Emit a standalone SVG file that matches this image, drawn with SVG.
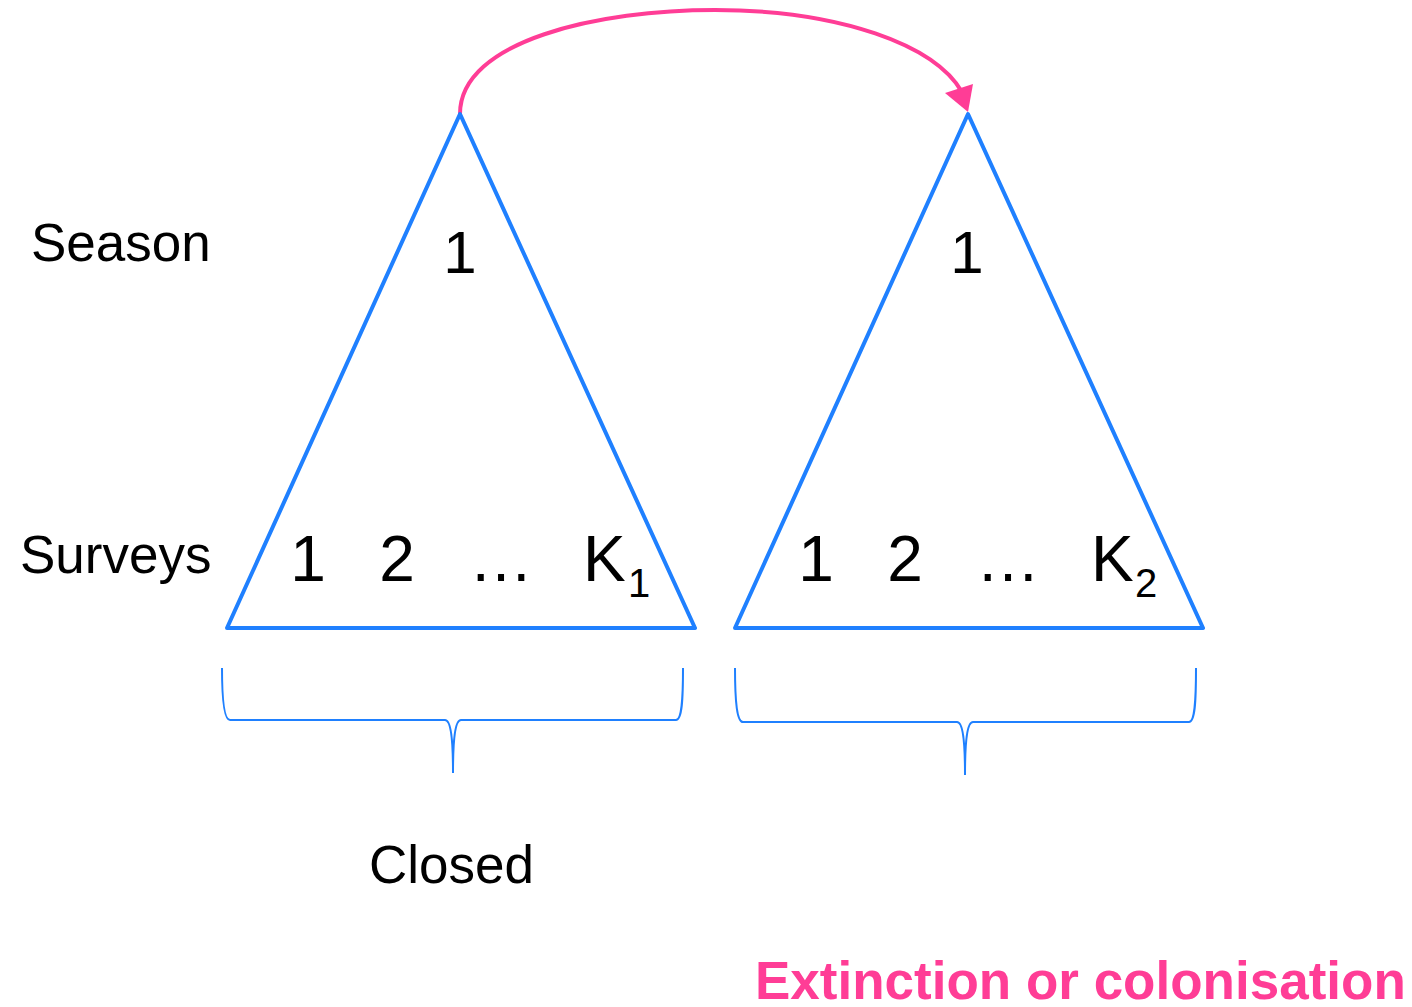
<svg xmlns="http://www.w3.org/2000/svg" width="1412" height="1007" viewBox="0 0 1412 1007">
<defs>
<style>
.tri{fill:none;stroke:#1f80ff;stroke-width:4;stroke-linejoin:round}
.brace{fill:none;stroke:#1f80ff;stroke-width:2}
.t{font-family:"Liberation Sans",Arial,sans-serif;font-size:53px;fill:#000}
.n{font-family:"Liberation Sans",Arial,sans-serif;font-size:64px;fill:#000}
.top{font-family:"Liberation Sans",Arial,sans-serif;font-size:60px;fill:#000}
.sub{font-family:"Liberation Sans",Arial,sans-serif;font-size:40px;fill:#000}
.pink{font-family:"Liberation Sans",Arial,sans-serif;font-size:53px;font-weight:bold;fill:#ff3d96}
</style>
</defs>
<rect width="1412" height="1007" fill="#fff"/>
<g id="connectors">
<path d="M460,114 C460,40 600,10 715,10 C840,10 935,45 962,92" fill="none" stroke="#ff3d96" stroke-width="4"/>
<path d="M945,93 L973,84 L968,112 z" fill="#ff3d96"/>
</g>
<g id="labels">
<text class="t" x="31" y="261">Season</text>
<text class="t" x="20" y="573">Surveys</text>
<text class="t" x="369" y="883">Closed</text>
<text class="pink" x="755" y="999">Extinction or colonisation</text>
</g>
<g id="season1">
<path class="tri" d="M460,114 L695,628 L227,628 Z"/>
<text class="top" x="460" y="273" text-anchor="middle">1</text>
<text class="n" x="308" y="581" text-anchor="middle">1</text>
<text class="n" x="397" y="581" text-anchor="middle">2</text>
<text class="n" x="501" y="581" text-anchor="middle">…</text>
<text class="n" x="583" y="581">K</text>
<text class="sub" x="628" y="597">1</text>
</g>
<g id="season2">
<path class="tri" d="M968,114 L1203,628 L735,628 Z"/>
<text class="top" x="967" y="273" text-anchor="middle">1</text>
<text class="n" x="816" y="581" text-anchor="middle">1</text>
<text class="n" x="905" y="581" text-anchor="middle">2</text>
<text class="n" x="1008" y="581" text-anchor="middle">…</text>
<text class="n" x="1091" y="581">K</text>
<text class="sub" x="1135" y="597">2</text>
</g>
<g id="brace1">
<path class="brace" d="M222,668 C222,700 224,720 230,720 L445,720 C451,720 453,740 453,773 C453,740 455,720 461,720 L676,720 C682,720 683,700 683,668"/>
</g>
<g id="brace2">
<path class="brace" d="M735,668 C735,702 737,722 743,722 L957,722 C963,722 965,742 965,775 C965,742 967,722 973,722 L1189,722 C1195,722 1196,702 1196,668"/>
</g>
</svg>
